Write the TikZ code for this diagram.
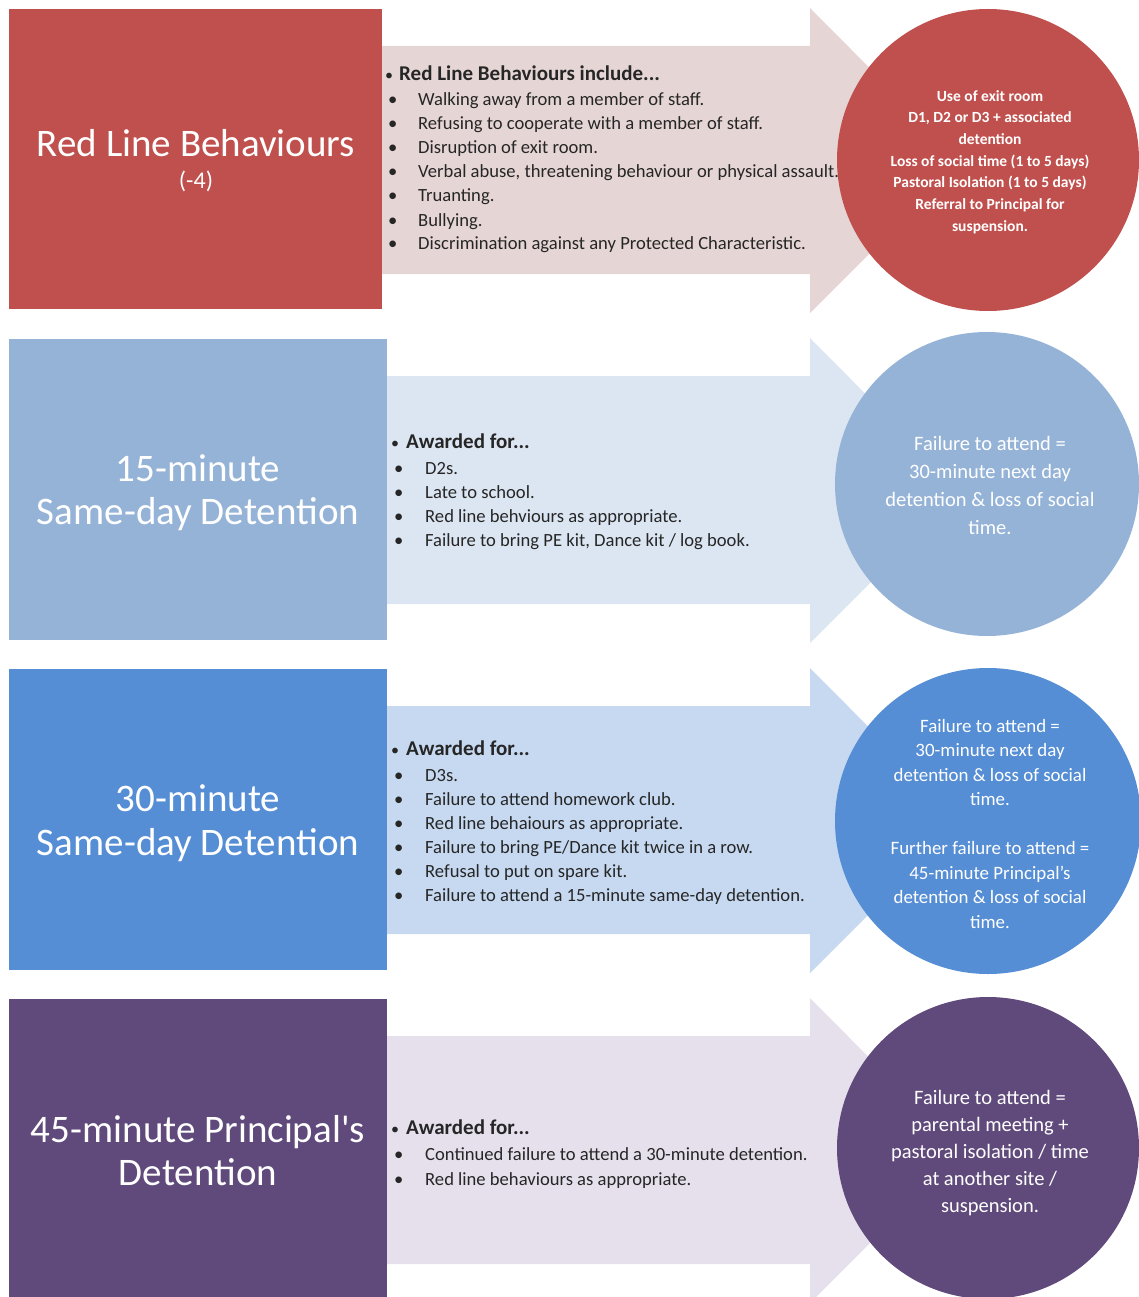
\documentclass[tikz,border=0pt]{standalone}
\usepackage{fontspec}
\setmainfont{Carlito}
\definecolor{redA}{HTML}{C0504D}
\definecolor{redB}{HTML}{E6D5D5}
\definecolor{lbA}{HTML}{95B3D7}
\definecolor{lbB}{HTML}{DCE6F2}
\definecolor{mbA}{HTML}{558ED5}
\definecolor{mbB}{HTML}{C6D9F1}
\definecolor{puA}{HTML}{604A7B}
\definecolor{puB}{HTML}{E6E0EC}
\definecolor{txt}{HTML}{262626}
\newcommand\rowarrow[3]{%
  \fill[#3] (#2,#1+37) -- (810,#1+37) -- (810,#1-1) -- (962,#1+152)
    -- (810,#1+304) -- (810,#1+265) -- (#2,#1+265) -- cycle;}
\newcommand\hbul[1]{\makebox[#1][l]{\mdseries\fontsize{16}{16}\selectfont•}}
\tikzset{
  box/.style={rectangle, inner sep=0pt, anchor=north west},
  ttl/.style={anchor=base, text=white, inner sep=0pt, font=\fontsize{39}{44}\selectfont},
  hdr/.style={anchor=base west, text=txt, inner sep=0pt, font=\fontsize{21}{24}\selectfont\bfseries},
  itm/.style={anchor=base west, text=txt, inner sep=0pt, font=\fontsize{18.6}{22}\selectfont},
  disc/.style={circle, inner sep=0pt, minimum size=#1},
  ctxt/.style={text=white, align=center, inner sep=0pt},
}
\begin{document}
\begin{tikzpicture}[x=1pt,y=-1pt]
\useasboundingbox (0,0) rectangle (1139,1297);
\clip (0,0) rectangle (1139,1297);
% ---------- row 1 ----------
\rowarrow{9}{382}{redB}
\node[box, fill=redA, minimum width=373pt, minimum height=300pt] (b1) at (9,9) {};
\node[ttl] (t1a) at (196,157) {Red Line Behaviours};
\node[ttl, font=\fontsize{24}{28}\selectfont] (t1b) at (196,189) {(-4)};
\node[hdr] (h1) at (385,81) {\hbul{14pt}Red Line Behaviours include...};
\foreach \t [count=\i] in {Walking away from a member of staff.,
  Refusing to cooperate with a member of staff.,
  Disruption of exit room.,
  {Verbal abuse, threatening behaviour or physical assault.},
  Truanting.,
  Bullying.,
  Discrimination against any Protected Characteristic.}
  \node[itm] (r1i\i) at (388,82+24*\i) {\makebox[30pt][l]{•}\t};
\node[disc=302pt, fill=redA] (c1) at (988,160) {};
\node[ctxt, font=\fontsize{15.5}{21.7}\selectfont\bfseries] (ct1) at (990,162)
  {Use of exit room\\D1, D2 or D3 + associated\\detention\\Loss of social time (1 to 5 days)\\Pastoral Isolation (1 to 5 days)\\Referral to Principal for\\suspension.};
% ---------- row 2 ----------
\rowarrow{339}{387}{lbB}
\node[box, fill=lbA, minimum width=378pt, minimum height=301pt] (b2) at (9,339) {};
\node[ttl] (t2a) at (198,481) {15-minute};
\node[ttl] (t2b) at (198,524) {Same-day Detention};
\node[hdr] (h2) at (391,448) {\hbul{15pt}Awarded for...};
\foreach \t [count=\i] in {D2s.,
  Late to school.,
  Red line behviours as appropriate.,
  {Failure to bring PE kit, Dance kit / log book.}}
  \node[itm] (r2i\i) at (394,450+24*\i) {\makebox[31pt][l]{•}\t};
\node[disc=304pt, fill=lbA] (c2) at (987,484) {};
\node[ctxt, font=\fontsize{20.5}{28}\selectfont] (ct2) at (990,485)
  {Failure to attend =\\30-minute next day\\detention \& loss of social\\time.};
% ---------- row 3 ----------
\rowarrow{669}{387}{mbB}
\node[box, fill=mbA, minimum width=378pt, minimum height=301pt] (b3) at (9,669) {};
\node[ttl] (t3a) at (198,811) {30-minute};
\node[ttl] (t3b) at (198,855) {Same-day Detention};
\node[hdr] (h3) at (391,755) {\hbul{15pt}Awarded for...};
\foreach \t [count=\i] in {D3s.,
  Failure to attend homework club.,
  Red line behaiours as appropriate.,
  Failure to bring PE/Dance kit twice in a row.,
  Refusal to put on spare kit.,
  Failure to attend a 15-minute same-day detention.}
  \node[itm] (r3i\i) at (394,757+24*\i) {\makebox[31pt][l]{•}\t};
\node[disc=306pt, fill=mbA] (c3) at (988,821) {};
\node[ctxt, font=\fontsize{18.9}{24.5}\selectfont] (ct3) at (990,824)
  {Failure to attend =\\30-minute next day\\detention \& loss of social\\time.\\[24.5pt]Further failure to attend =\\45-minute Principal’s\\detention \& loss of social\\time.};
% ---------- row 4 ----------
\rowarrow{999}{387}{puB}
\node[box, fill=puA, minimum width=378pt, minimum height=310pt] (b4) at (9,999) {};
\node[ttl] (t4a) at (198,1142) {45-minute Principal\textquotesingle s};
\node[ttl] (t4b) at (198,1185) {Detention};
\node[hdr] (h4) at (391,1134) {\hbul{15pt}Awarded for...};
\foreach \t [count=\i] in {Continued failure to attend a 30-minute detention.,
  Red line behaviours as appropriate.}
  \node[itm] (r4i\i) at (394,1135+25*\i) {\makebox[31pt][l]{•}\t};
\node[disc=302pt, fill=puA] (c4) at (988,1148) {};
\node[ctxt, font=\fontsize{20.5}{27}\selectfont] (ct4) at (990,1153)
  {Failure to attend =\\parental meeting +\\pastoral isolation / time\\at another site /\\suspension.};
\end{tikzpicture}
\end{document}
